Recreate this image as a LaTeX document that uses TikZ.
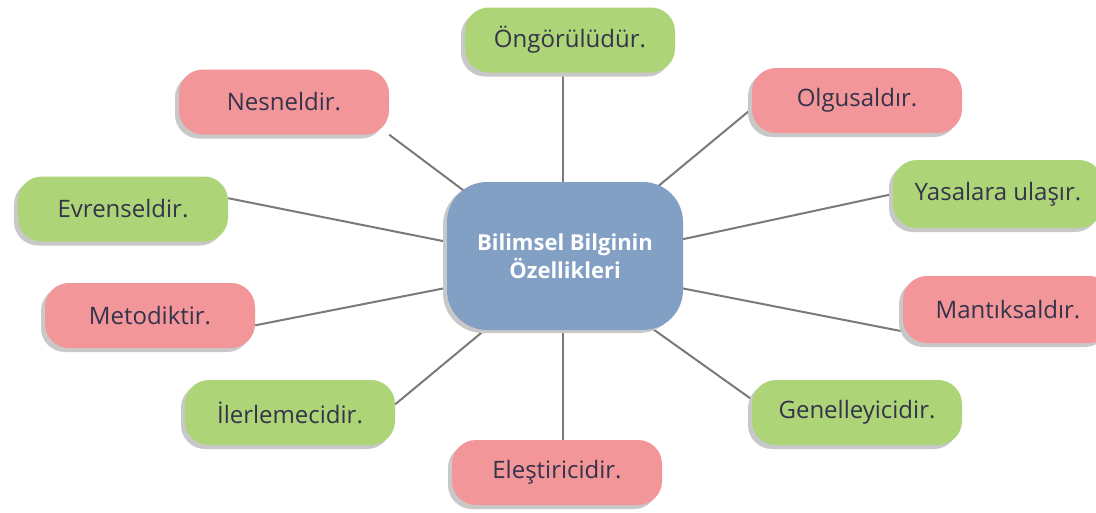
\documentclass[tikz,border=0pt]{standalone}
\usepackage{fontspec}
\setmainfont{Open Sans}
\usetikzlibrary{shadows,calc}
\pgfdeclarelayer{background}
\pgfdeclarelayer{canvas}
\pgfsetlayers{canvas,background,main}
\definecolor{pinkbox}{HTML}{F3969A}
\definecolor{greenbox}{HTML}{AED478}
\definecolor{bluebox}{HTML}{829FC4}
\definecolor{txt}{HTML}{33334A}
\definecolor{linec}{HTML}{7A7A7A}
\definecolor{shad}{HTML}{C8C8C8}
\tikzset{
  leaf/.style={rounded corners=24pt, minimum width=210pt, minimum height=65pt,
    font=\fontsize{24}{28}\selectfont, text=txt, inner sep=0pt,
    drop shadow={shadow xshift=-4pt, shadow yshift=-4pt, fill=shad, opacity=1}},
  pinkleaf/.style={leaf, fill=pinkbox},
  greenleaf/.style={leaf, fill=greenbox},
  hubbox/.style={rounded corners=40pt, minimum width=236pt, minimum height=148pt,
    fill=bluebox, text=white, align=center, inner sep=0pt,
    font=\fontsize{22}{28}\selectfont\bfseries,
    drop shadow={shadow xshift=-4pt, shadow yshift=-3pt, fill=shad, opacity=1}},
  conn/.style={draw=linec, line width=2pt}
}
\begin{document}
\begin{tikzpicture}[x=1pt,y=-1pt]
\useasboundingbox (0,0) rectangle (1096,512);
\begin{pgfonlayer}{canvas}
\fill[white] (0,0) rectangle (1096,512);
\end{pgfonlayer}
\node[hubbox] (C) at (565,256) {Bilimsel Bilginin\\Özellikleri};
\coordinate (hub) at (563,265);
\node[greenleaf] (On) at (570,40) {Öngörülüdür.};
\node[pinkleaf] (Nes) at (284,102) {Nesneldir.};
\node[pinkleaf] (Olg) at (857,100.5) {Olgusaldır.};
\node[greenleaf] (Evr) at (123,209) {Evrenseldir.};
\node[greenleaf, minimum height=68pt] (Yas) at (998,194) {Yasalara ulaşır.};
\node[pinkleaf] (Met) at (150,315.5) {Metodiktir.};
\node[pinkleaf, minimum height=67pt] (Man) at (1008,309.5) {Mantıksaldır.};
\node[greenleaf] (Ile) at (290,412.5) {İlerlemecidir.};
\node[greenleaf] (Gen) at (857,412.5) {Genelleyicidir.};
\node[pinkleaf] (Ele) at (557,472.5) {Eleştiricidir.};
\begin{pgfonlayer}{background}
\draw[conn] (hub) -- (hub |- On.south);
\draw[conn] (hub) -- (Nes.south east);
\draw[conn] (hub) -- ($(Olg.west)!0.25!(Olg.south west)$);
\draw[conn] (hub) -- ($(Evr.east)!0.33!(Evr.north east)$);
\draw[conn] (hub) -- (Yas.west);
\draw[conn] (hub) -- ($(Met.east)!0.3!(Met.south east)$);
\draw[conn] (hub) -- ($(Man.west)!0.65!(Man.south west)$);
\draw[conn] (hub) -- ($(Ile.east)!0.25!(Ile.north east)$);
\draw[conn] (hub) -- ($(Gen.west)!0.4!(Gen.north west)$);
\draw[conn] (hub) -- (hub |- Ele.north);
\end{pgfonlayer}
\end{tikzpicture}
\end{document}
